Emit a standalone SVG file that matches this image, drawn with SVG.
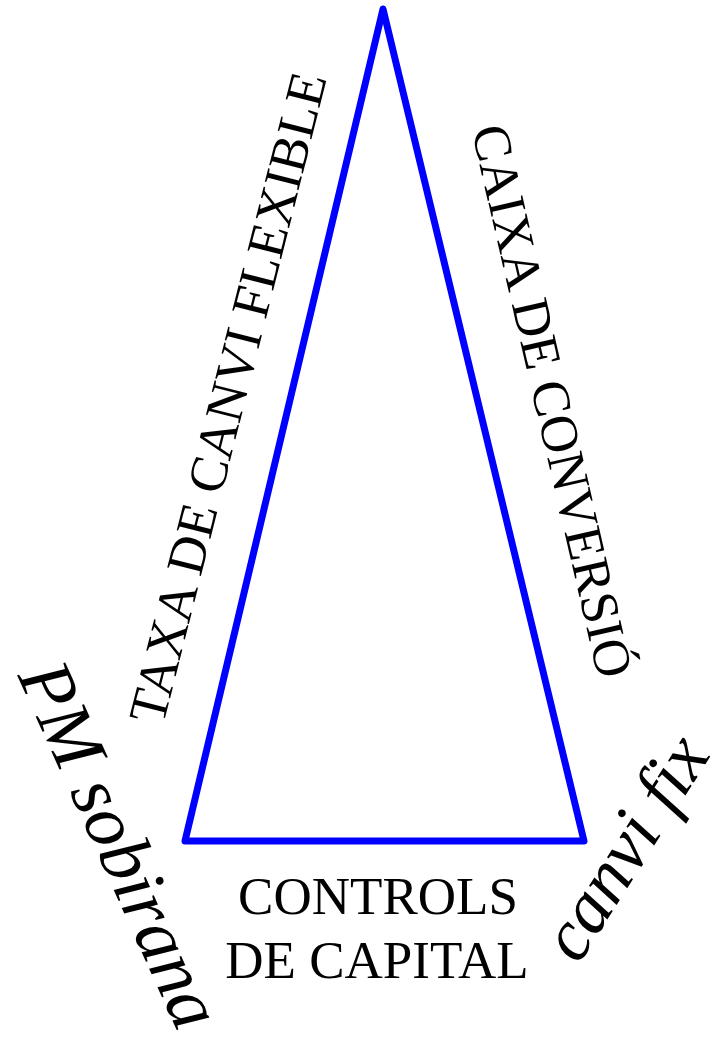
<svg xmlns="http://www.w3.org/2000/svg" width="724" height="1045" viewBox="0 0 724 1045">
<style>
.edge{fill:none;stroke:#0000ff;stroke-width:7;stroke-linejoin:round;stroke-linecap:round}
.lab{font-family:"Liberation Serif","Times New Roman",serif;font-size:53px;fill:#000;text-anchor:middle}
.it{font-family:"Liberation Serif","Times New Roman",serif;font-style:italic;fill:#000;text-anchor:middle}
</style>
<rect width="724" height="1045" fill="#fff"/>
<g id="connectors">
<polygon class="edge" points="185,841 383,9 584,841"/>
</g>
<g id="taxa">
<text class="lab" transform="translate(245,402) rotate(-75.8)">TAXA DE CANVI FLEXIBLE</text>
</g>
<g id="caixa">
<text class="lab" transform="translate(535,405) rotate(77)">CAIXA DE CONVERSIÓ</text>
</g>
<g id="controls">
<text class="lab" x="378" y="914">CONTROLS</text>
<text class="lab" x="377" y="978">DE CAPITAL</text>
</g>
<g id="pm">
<text class="it" font-size="75" transform="translate(98,855) rotate(65.8)">PM sobirana</text>
</g>
<g id="fix">
<text class="it" font-size="73" transform="translate(645,860) rotate(-57.8)">canvi fix</text>
</g>
</svg>
